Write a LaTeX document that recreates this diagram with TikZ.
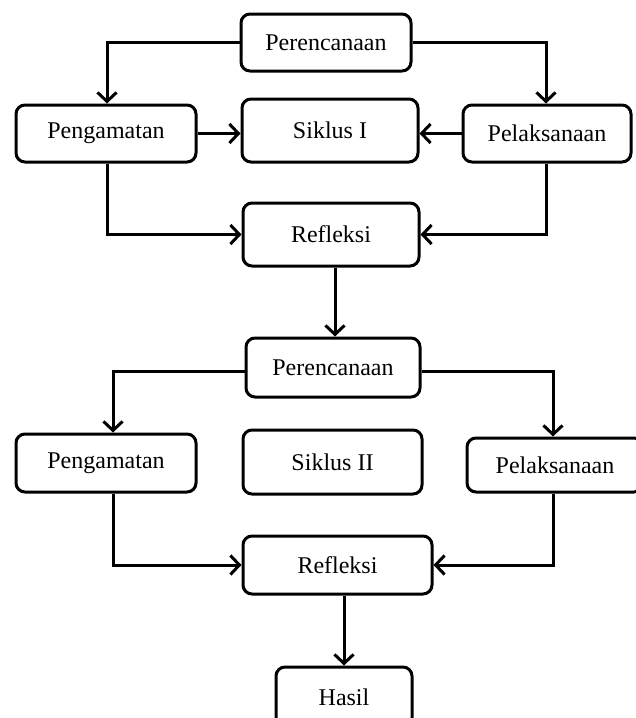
\documentclass[tikz,border=0pt]{standalone}
\usepackage{fontspec}
\setmainfont{Liberation Serif}
\usetikzlibrary{arrows.meta}
\tikzset{
  box/.style={draw, line width=3pt, rounded corners=9pt, inner sep=0pt,
    font=\fontsize{24}{28}\selectfont},
  flow/.style={line width=3pt, -{Straight Barb[length=9pt,width=19pt]}}
}
\begin{document}
\begin{tikzpicture}[x=1pt, y=-1pt]
  \useasboundingbox (0,0) rectangle (635,718);
  % siklus I
  \node[box, minimum width=170pt, minimum height=57pt] (plan1) at (326,42.5) {Perencanaan};
  \node[box, minimum width=180pt, minimum height=57pt] (obs1) at (106,133.5) {Pengamatan};
  \node[box, minimum width=176pt, minimum height=63pt] (cyc1) at (330,130.5) {Siklus I};
  \node[box, minimum width=168pt, minimum height=57pt] (act1) at (547,133.5) {Pelaksanaan};
  \node[box, minimum width=176pt, minimum height=63pt] (ref1) at (331,234.5) {Refleksi};
  % siklus II
  \node[box, minimum width=174pt, minimum height=59pt] (plan2) at (333,367.5) {Perencanaan};
  \node[box, minimum width=180pt, minimum height=58pt] (obs2) at (106,463) {Pengamatan};
  \node[box, minimum width=179pt, minimum height=64pt] (cyc2) at (332.5,462) {Siklus II};
  \node[box, minimum width=176pt, minimum height=54pt] (act2) at (555,465) {Pelaksanaan};
  \node[box, minimum width=189pt, minimum height=58pt] (ref2) at (337.5,565) {Refleksi};
  \node[box, minimum width=136pt, minimum height=60pt] (hasil) at (344,697) {Hasil};
  \begin{scope}[flow]
    \draw (plan1.west) -| ([xshift=1pt]obs1.north);
    \draw (plan1.east) -| ([xshift=-1pt]act1.north);
    \draw (obs1.east) to (obs1.east -| cyc1.west);
    \draw (act1.west) to (act1.west -| cyc1.east);
    \draw ([xshift=1pt]obs1.south) |- (ref1.west);
    \draw ([xshift=-1pt]act1.south) |- (ref1.east);
    \draw ([xshift=4pt]ref1.south) to ([xshift=2pt]plan2.north);
    \draw ([yshift=-4pt]plan2.west) -| ([xshift=7pt]obs2.north);
    \draw ([yshift=-4pt]plan2.east) -| ([xshift=-2pt]act2.north);
    \draw ([xshift=7pt]obs2.south) |- (ref2.west);
    \draw ([xshift=-2pt]act2.south) |- (ref2.east);
    \draw (ref2.south -| hasil.north) to (hasil.north);
  \end{scope}
\end{tikzpicture}
\end{document}
